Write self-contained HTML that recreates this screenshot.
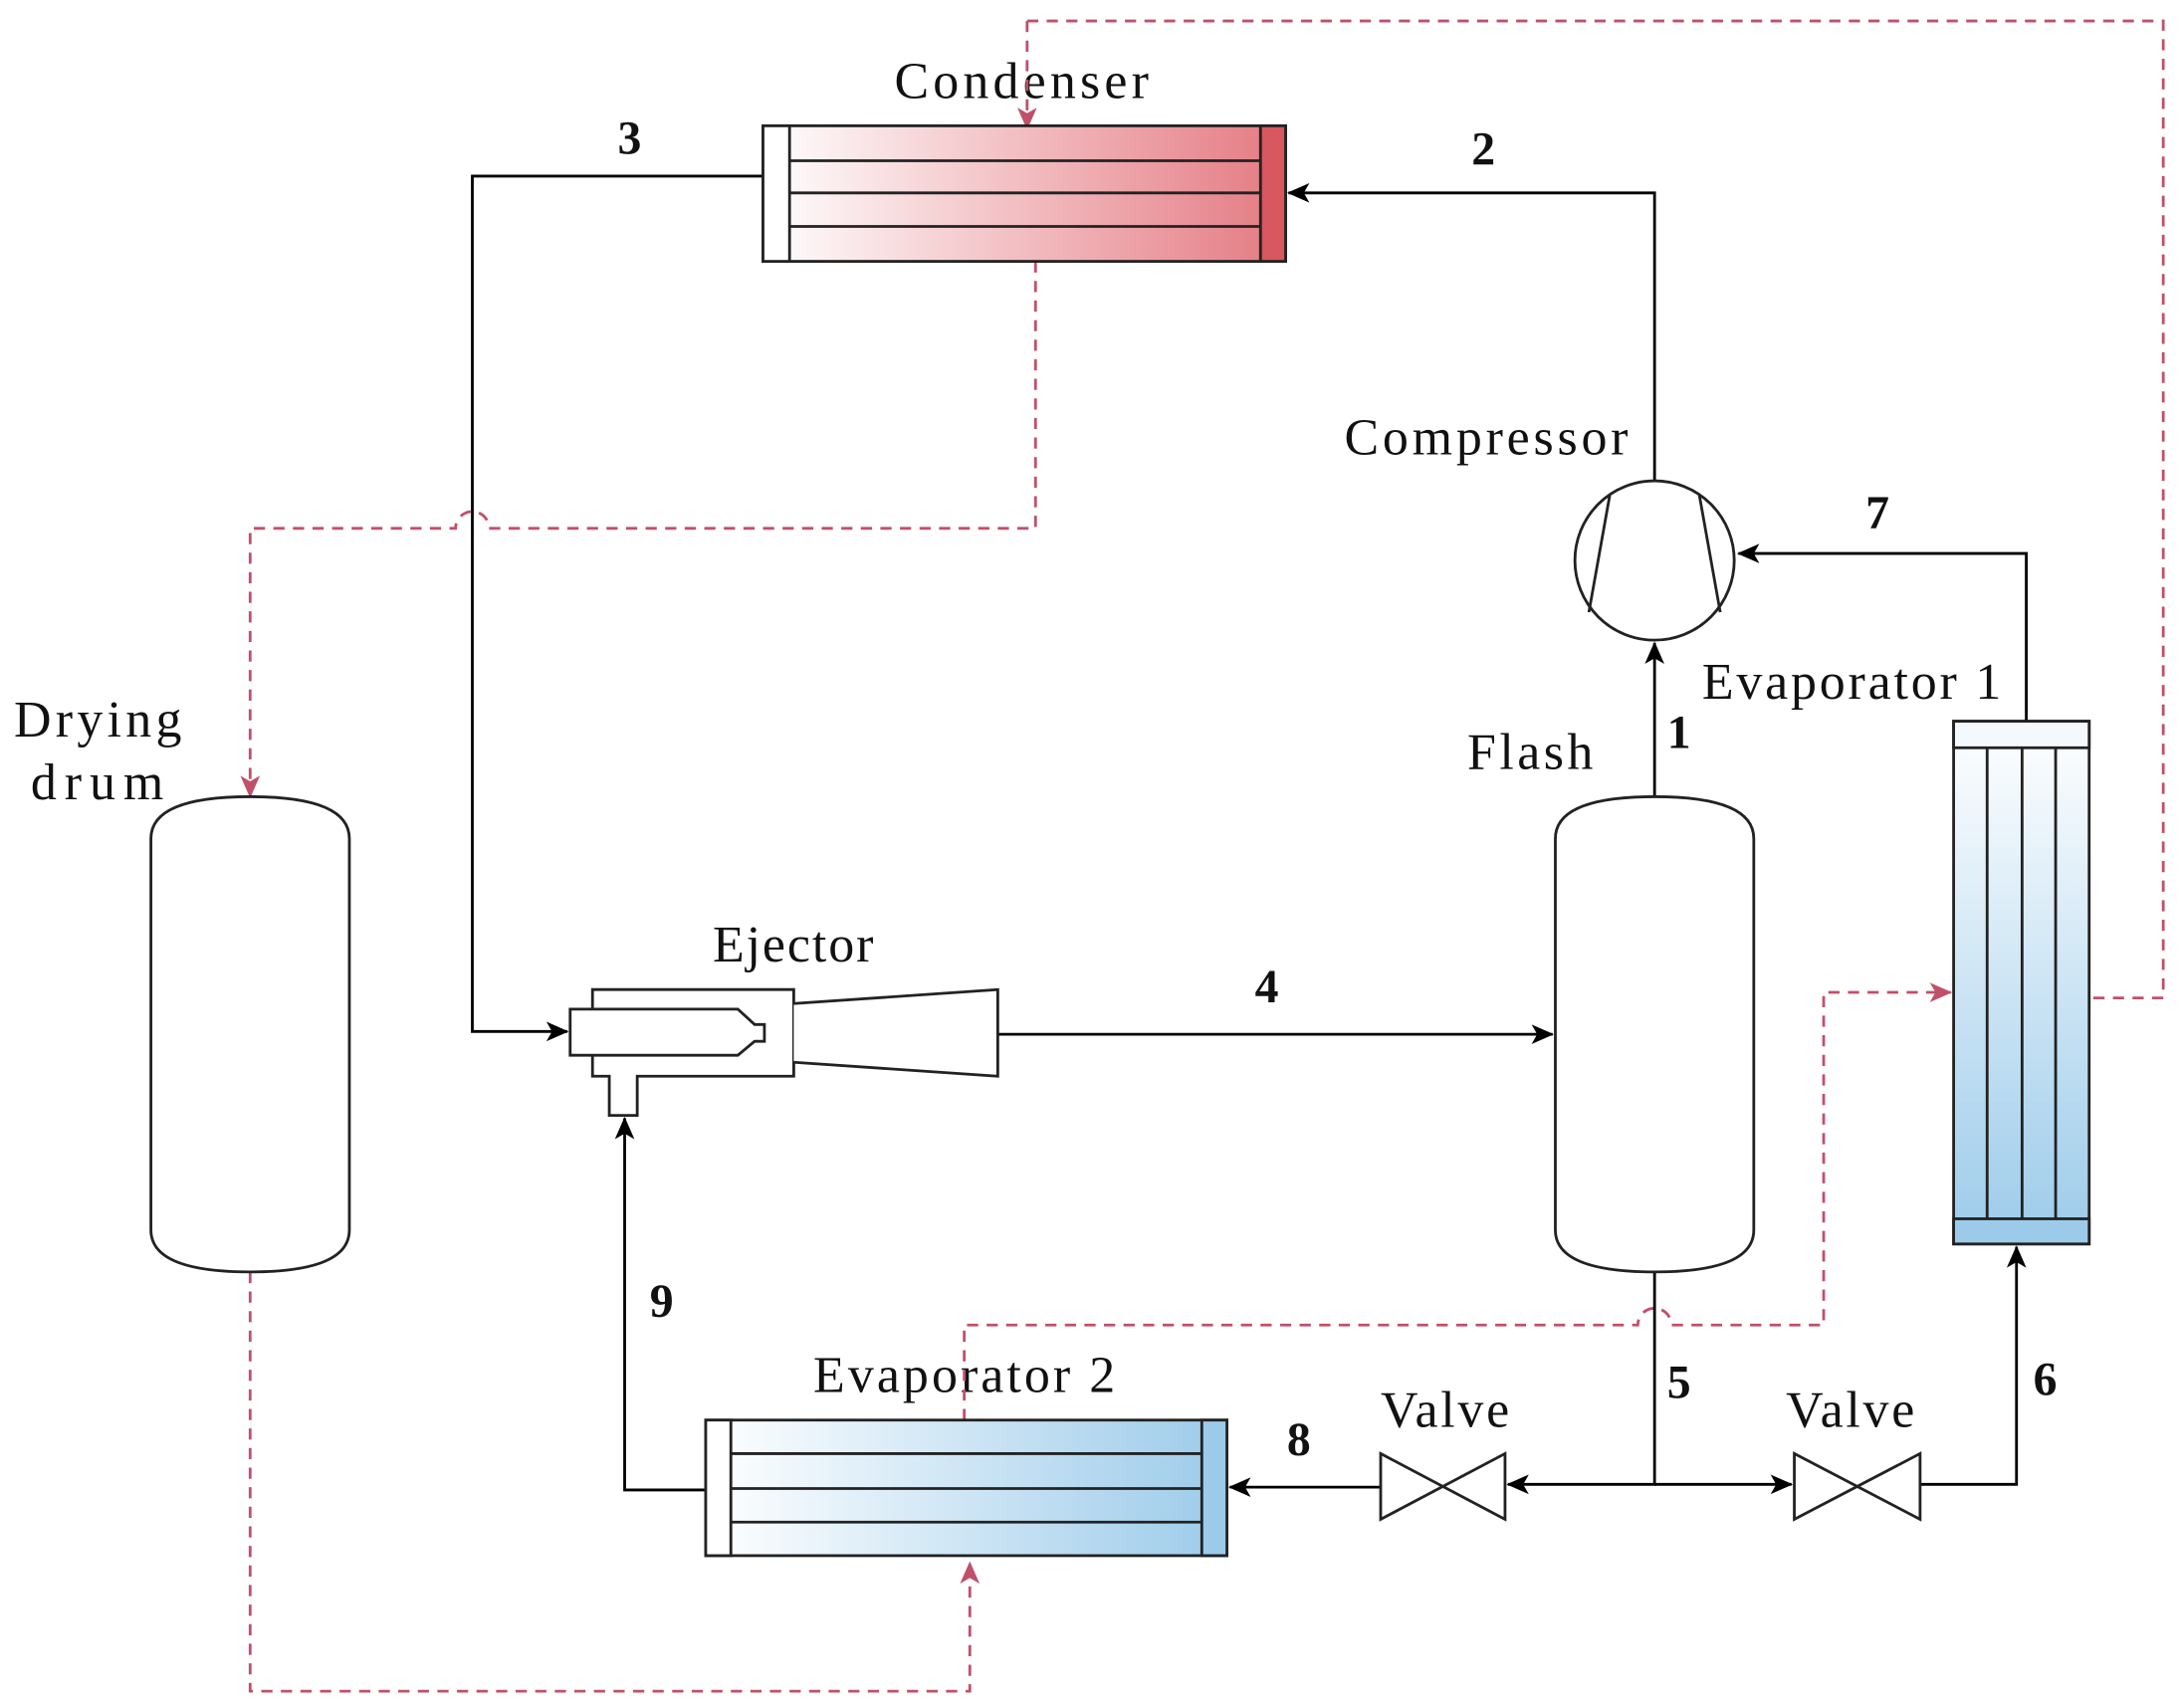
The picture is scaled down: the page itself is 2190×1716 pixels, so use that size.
<!DOCTYPE html>
<html><head><meta charset="utf-8"><style>html,body{margin:0;padding:0;background:#fff}svg{display:block}</style></head>
<body>
<svg width="2190" height="1716" viewBox="0 0 1560 1222" preserveAspectRatio="none" xmlns="http://www.w3.org/2000/svg">
<defs>
<linearGradient id="gr" x1="0" x2="1" y1="0" y2="0"><stop offset="0" stop-color="#fff"/><stop offset="1" stop-color="#e47a82"/></linearGradient>
<linearGradient id="gb" x1="0" x2="1" y1="0" y2="0"><stop offset="0" stop-color="#fff"/><stop offset="1" stop-color="#9ccbea"/></linearGradient>
<linearGradient id="gbv" x1="0" x2="0" y1="0" y2="1"><stop offset="0" stop-color="#fff"/><stop offset="1" stop-color="#9ccbea"/></linearGradient>
<marker id="ak" markerWidth="16" markerHeight="14" refX="15" refY="7" orient="auto" markerUnits="userSpaceOnUse"><path d="M0,0 L16,7 L0,14 L4,7z" fill="#000"/></marker>
<marker id="ap" markerWidth="16" markerHeight="14" refX="15" refY="7" orient="auto" markerUnits="userSpaceOnUse"><path d="M0,0 L16,7 L0,14 L4,7z" fill="#c0506a"/></marker>
</defs>
<g font-family="Liberation Serif, serif" font-size="37" fill="#111" lengthAdjust="spacingAndGlyphs">
<text x="640" y="70" textLength="182">Condenser</text>
<text x="962" y="325" textLength="203">Compressor</text>
<text x="1218" y="500" textLength="214">Evaporator 1</text>
<text x="1050" y="550" textLength="90">Flash</text>
<text x="10" y="527" textLength="120">Drying</text>
<text x="22" y="572" textLength="95">drum</text>
<text x="510" y="688" textLength="115">Ejector</text>
<text x="582" y="996" textLength="216">Evaporator 2</text>
<text x="988" y="1021" textLength="92">Valve</text>
<text x="1278" y="1021" textLength="92">Valve</text>
</g>
<g font-family="Liberation Serif, serif" font-size="34" font-weight="bold" fill="#111">
<text x="442" y="110">3</text><text x="1053" y="118">2</text><text x="1335" y="378">7</text>
<text x="1193" y="535">1</text><text x="898" y="717">4</text><text x="465" y="942">9</text>
<text x="1193" y="1000">5</text><text x="1455" y="998">6</text><text x="921" y="1041">8</text>
</g>
<g fill="none" stroke="#c0506a" stroke-width="2" stroke-dasharray="8,6">
<path d="M735,15 H1548 V714 H1495"/>
<path d="M735,15 V92" marker-end="url(#ap)"/>
<path d="M741,187 V378 H350 A12,12 0 0 0 326,378 H179 V570" marker-end="url(#ap)"/>
<path d="M179,910 V1210 H694 V1118" marker-end="url(#ap)"/>
<path d="M690,1016 V948 H1172 A12,12 0 0 1 1196,948 H1305 V710 H1396" marker-end="url(#ap)"/>
</g>
<g fill="none" stroke="#000" stroke-width="2">
<path d="M546,126 H338 V738 H406" marker-end="url(#ak)"/>
<path d="M1184,345 V138 H922" marker-end="url(#ak)"/>
<path d="M1450,516 V396 H1244" marker-end="url(#ak)"/>
<path d="M1184,570 V460" marker-end="url(#ak)"/>
<path d="M714,740 H1111" marker-end="url(#ak)"/>
<path d="M505,1066 H447 V800" marker-end="url(#ak)"/>
<path d="M1184,910 V1062 H1079" marker-end="url(#ak)"/>
<path d="M1184,1062 H1282" marker-end="url(#ak)"/>
<path d="M988,1064 H880" marker-end="url(#ak)"/>
<path d="M1374,1062 H1443 V892" marker-end="url(#ak)"/>
</g>
<g stroke="#222" stroke-width="2">
<rect x="546" y="90" width="374" height="97" fill="url(#gr)"/>
<rect x="546" y="90" width="19" height="97" fill="#fff"/>
<rect x="902" y="90" width="18" height="97" fill="#d9575f"/>
<path d="M565,115H902M565,138H902M565,162H902" fill="none"/>
<rect x="505" y="1016" width="373" height="97" fill="url(#gb)"/>
<rect x="505" y="1016" width="18" height="97" fill="#fff"/>
<rect x="860" y="1016" width="18" height="97" fill="#9ccbea"/>
<path d="M523,1040H860M523,1065H860M523,1089H860" fill="none"/>
<rect x="1398" y="516" width="97" height="374" fill="url(#gbv)"/>
<rect x="1398" y="516" width="97" height="19" fill="#f4f9fd"/>
<rect x="1398" y="872" width="97" height="18" fill="#9ccbea"/>
<path d="M1422,535V872M1447,535V872M1471,535V872" fill="none"/>
<path d="M1113,600 Q1113,570 1184,570 Q1255,570 1255,600 V880 Q1255,910 1184,910 Q1113,910 1113,880 Z" fill="#fff"/>
<path d="M108,600 Q108,570 179,570 Q250,570 250,600 V880 Q250,910 179,910 Q108,910 108,880 Z" fill="#fff"/>
<circle cx="1184" cy="401" r="57" fill="#fff"/>
<path d="M1152,354 L1137,438 M1216,354 L1231,438" fill="none"/>
<path d="M424,708 H568 V770 H456 V798 H436 V770 H424 Z" fill="#fff"/>
<path d="M568,718 L714,708 V770 L568,760" fill="#fff"/>
<path d="M408,722 H528 L540,733 H547 V745 H540 L528,755 H408 Z" fill="#fff"/>
<path d="M988,1040 L1077,1087 V1040 L988,1087 Z" fill="#fff"/>
<path d="M1284,1040 L1374,1087 V1040 L1284,1087 Z" fill="#fff"/>
</g>
</svg>
</body></html>
